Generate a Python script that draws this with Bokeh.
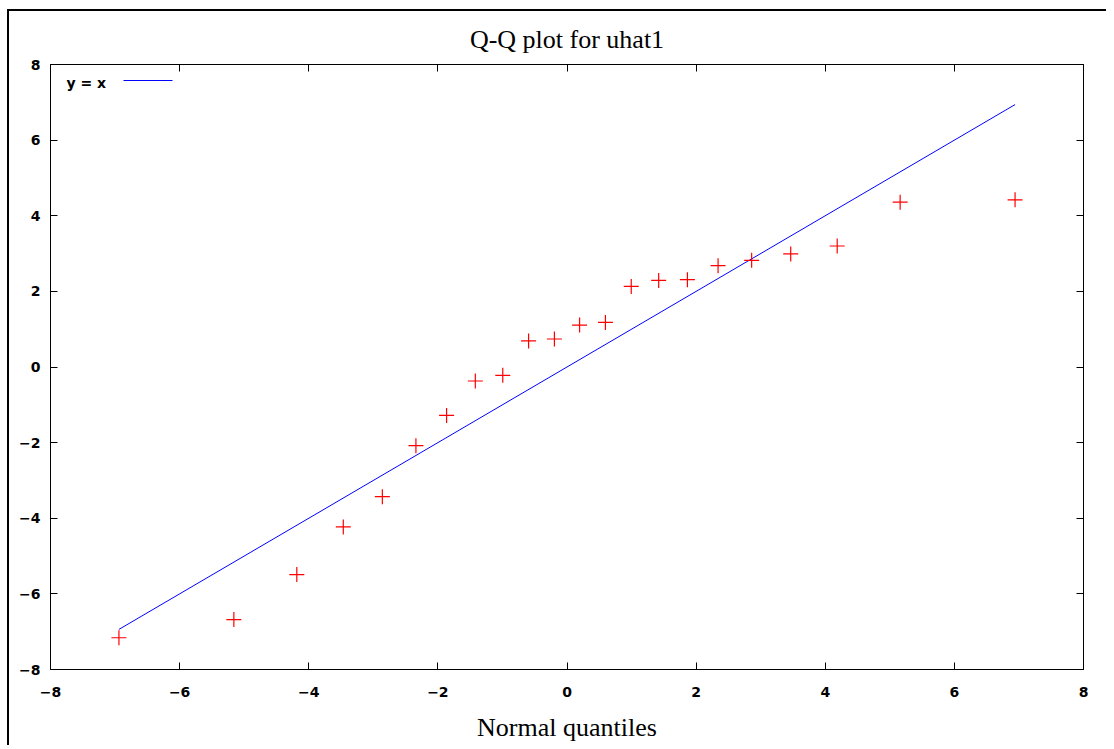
from bokeh.plotting import figure
from bokeh.models import LinearAxis, Range1d, FixedTicker, BoxAnnotation, Label, ColumnDataSource
from bokeh.embed import file_html
from bokeh.resources import INLINE

# Data
normal_quantiles = [-6.94, -5.16, -4.185, -3.465, -2.86, -2.34, -1.865, -1.42, -0.995, -0.595, -0.195,
                    0.195, 0.595, 0.995, 1.42, 1.865, 2.34, 2.86, 3.465, 4.185, 5.16, 6.94]
uhat1_sorted = [-7.16, -6.68, -5.49, -4.23, -3.43, -2.08, -1.28, -0.37, -0.22, 0.69, 0.74,
                1.11, 1.18, 2.13, 2.29, 2.31, 2.68, 2.82, 2.99, 3.20, 4.36, 4.42]
ticks = [-8, -6, -4, -2, 0, 2, 4, 6, 8]

FW, FH = 1033, 605
BL, BR, BT, BB = 41, 23, 53, 76
W, H = BL + FW + BR, BT + FH + BB
p = figure(width=W, height=H, output_backend="svg", toolbar_location=None,
           x_range=Range1d(-8, 8), y_range=Range1d(-8, 8),
           x_axis_location=None, y_axis_location=None,
           min_border_left=BL, min_border_right=BR, min_border_top=BT, min_border_bottom=BB)
p.frame_width = FW
p.frame_height = FH
p.grid.visible = False
p.outline_line_color = "black"
p.outline_line_width = 1
p.background_fill_color = "white"
p.border_fill_color = "white"
p.styles = {"border-left": "2px solid black", "border-top": "2px solid black",
            "margin-left": "7px", "margin-top": "9px"}

p.title.text = "Q-Q plot for uhat1"
p.title.align = "center"
p.title.offset = -6
p.title.text_font = "Liberation Serif"
p.title.text_font_style = "normal"
p.title.text_font_size = "26px"
p.title.text_color = "black"
p.title.standoff = 22

def make_axis(labels=True):
    ax = LinearAxis(ticker=FixedTicker(ticks=ticks))
    ax.major_tick_in = 7
    ax.major_tick_out = 0
    ax.minor_tick_in = 0
    ax.minor_tick_out = 0
    ax.axis_line_color = "black"
    ax.major_tick_line_color = "black"
    ax.major_label_text_font = "DejaVu Sans"
    ax.major_label_text_font_style = "bold"
    ax.major_label_text_font_size = "14px"
    ax.major_label_text_color = "black"
    if not labels:
        ax.major_label_overrides = {t: "" for t in ticks}
        ax.major_label_standoff = 0
    return ax

xb = make_axis()
xb.major_label_standoff = 17
xb.axis_label = "Normal quantiles"
xb.axis_label_text_font = "Liberation Serif"
xb.axis_label_text_font_style = "normal"
xb.axis_label_text_font_size = "26px"
xb.axis_label_text_color = "black"
xb.axis_label_standoff = 13
p.add_layout(xb, "below")

yl = make_axis()
yl.major_label_standoff = 10
p.add_layout(yl, "left")

p.add_layout(make_axis(False), "above")
p.add_layout(make_axis(False), "right")

# y = x reference line over the range of the quantiles
qmin, qmax = min(normal_quantiles), max(normal_quantiles)
p.line(x=[qmin, qmax], y=[qmin, qmax], line_color="#0000ff", line_width=1)

src = ColumnDataSource(dict(x=normal_quantiles, y=uhat1_sorted))
p.scatter(x="x", y="y", source=src, marker="cross", size=15, line_color="#ff0000", line_width=1.2)

# legend (text followed by line sample, as in the reference); screen units are frame-relative
p.add_layout(Label(x=16, y=FH - 18.5, x_units="screen", y_units="screen", text="y = x",
                   text_font="DejaVu Sans", text_font_style="bold", text_font_size="14px",
                   text_baseline="middle", text_color="black"))
p.add_layout(BoxAnnotation(left=73, right=122, bottom=FH - 16.5, top=FH - 15.5,
                           left_units="screen", right_units="screen",
                           bottom_units="screen", top_units="screen", fill_color="#0000ff", fill_alpha=1,
                           line_color=None))

open("out.html", "w").write(file_html(p, INLINE))
